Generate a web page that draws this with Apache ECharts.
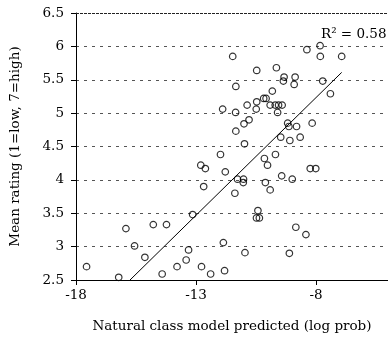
<!DOCTYPE html>
<html>
<head>
<meta charset="utf-8">
<script src="https://cdn.jsdelivr.net/npm/echarts@6/dist/echarts.min.js"></script>
<style>
  html, body { margin: 0; padding: 0; background: #fff; }
  #chart { width: 388px; height: 338px; }
</style>
</head>
<body>
<div id="chart"></div>
<script>
// x = natural class model prediction (log prob), y = mean rating
var predicted = [
  -17.56, -16.22, -15.92, -15.56, -15.13, -14.78, -14.23, -14.41, -13.79, -13.41,
  -13.31, -13.14, -12.80, -12.61, -12.68, -12.77, -12.39, -11.81, -11.86, -10.96,
  -9.11, -8.84, -8.42, -10.42, -10.48, -10.36, -11.78, -11.38, -11.27, -11.02,
  -11.03, -10.11, -9.91, -10.15, -10.02, -9.43, -8.99, -8.24, -8.01, -11.98,
  -10.98, -11.34, -11.00, -10.79, -9.69, -9.47, -9.09, -8.66, -9.18, -9.13,
  -8.81, -8.16, -9.60, -11.89, -11.35, -10.49, -10.87, -9.91, -9.70, -9.56,
  -9.41, -10.47, -10.18, -10.08, -11.34, -9.82, -7.40, -9.33, -8.87, -9.36,
  -8.91, -7.72, -10.47, -9.65, -11.47, -8.38, -7.83, -7.82, -6.93
]
var rating = [
  2.70, 2.54, 3.27, 3.01, 2.84, 3.33, 3.33, 2.59, 2.70, 2.80,
  2.95, 3.48, 4.22, 4.17, 3.90, 2.70, 2.59, 2.64, 3.06, 2.91,
  2.90, 3.29, 3.18, 3.54, 3.43, 3.43, 4.12, 3.80, 4.01, 4.01,
  3.96, 3.96, 3.85, 4.32, 4.22, 4.06, 4.01, 4.17, 4.17, 4.38,
  4.54, 4.73, 4.84, 4.90, 4.38, 4.64, 4.59, 4.64, 4.85, 4.80,
  4.80, 4.85, 5.01, 5.06, 5.01, 5.06, 5.12, 5.12, 5.12, 5.12,
  5.12, 5.17, 5.22, 5.22, 5.40, 5.33, 5.29, 5.54, 5.54, 5.48,
  5.43, 5.48, 5.64, 5.68, 5.85, 5.95, 6.01, 5.85, 5.85
]
// linear trend line ends
var trendX = [-15.75, -6.93]
var trendY = [2.5, 5.61]
var xTicks = [-18, -13, -8]
var rSquared = '0.58'

var font = 'DejaVu Serif'
var points = predicted.map(function (x, i) { return [x, rating[i]] })
var trend = trendX.map(function (x, i) { return [x, trendY[i]] })

var myChart = echarts.init(document.getElementById('chart'))
myChart.setOption({
  backgroundColor: '#fff',
  animation: false,
  textStyle: { fontFamily: font },
  grid: { left: 73, top: 13, width: 317, height: 272 },
  xAxis: {
    type: 'value',
    min: -18,
    max: -5,
    name: 'Natural class model predicted (log prob)',
    nameLocation: 'middle',
    nameGap: 39,
    nameTextStyle: { fontFamily: font, fontSize: 13.5, color: '#000' },
    axisLine: { lineStyle: { color: '#000', width: 1 } },
    axisTick: { customValues: xTicks, length: 5, lineStyle: { color: '#000' } },
    axisLabel: { customValues: xTicks, margin: 8, fontFamily: font, fontSize: 13.5, color: '#000' },
    splitLine: { show: false }
  },
  yAxis: {
    type: 'value',
    min: 2.5,
    max: 6.5,
    interval: 0.5,
    name: 'Mean rating (1=low, 7=high)',
    nameLocation: 'middle',
    nameGap: 54,
    nameTextStyle: { fontFamily: font, fontSize: 13.5, color: '#000' },
    axisLine: { show: true, lineStyle: { color: '#000', width: 1 } },
    axisTick: { show: true, length: 5, lineStyle: { color: '#000' } },
    axisLabel: { margin: 12, fontFamily: font, fontSize: 13.5, color: '#000' },
    splitLine: { show: true, lineStyle: { color: '#555', type: [3, 5], width: 1 } }
  },
  series: [
    {
      type: 'scatter',
      data: points,
      symbol: 'circle',
      symbolSize: 6.5,
      itemStyle: { color: 'rgba(0,0,0,0)', borderColor: '#000', borderWidth: 1.2 },
      markLine: {
        silent: true,
        symbol: 'none',
        label: { show: false },
        lineStyle: { color: '#222', type: [3, 1], width: 1 },
        data: [{ yAxis: 6.5 }]
      }
    },
    {
      type: 'line',
      data: trend,
      showSymbol: false,
      lineStyle: { color: '#000', width: 1 }
    }
  ],
  graphic: [
    {
      type: 'text',
      left: 321,
      top: 27,
      style: {
        text: 'R² = ' + rSquared,
        fontFamily: font,
        fontSize: 13.5,
        fill: '#000'
      }
    }
  ]
})
</script>
</body>
</html>
